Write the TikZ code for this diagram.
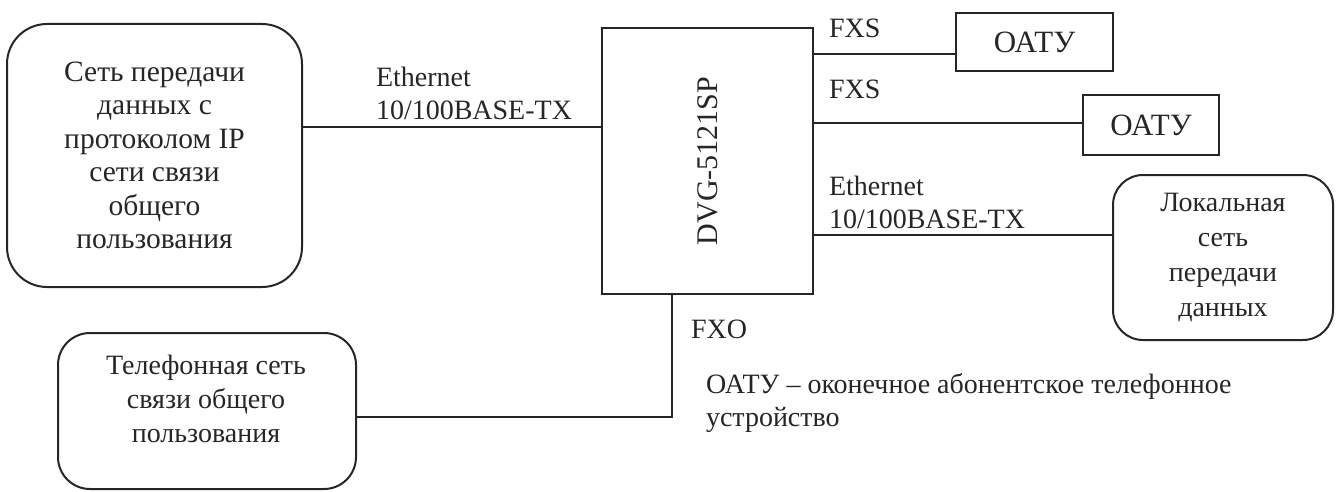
\documentclass[tikz,border=0pt]{standalone}
\usepackage{fontspec}
\usepackage{graphicx}
\setmainfont{Liberation Serif}
\definecolor{ink}{HTML}{262626}
\begin{document}
\begin{tikzpicture}[x=1pt,y=-1pt,
  line width=2pt, draw=ink,
  every node/.style={font=\fontsize{28}{33}\selectfont, text=ink, inner sep=0pt},
  box/.style={draw=ink, line width=2pt},
  rbox/.style={box, rounded corners=30pt},
  conn/.style={draw=ink, line width=2pt},
  lbl/.style={align=left, anchor=base west}]
\useasboundingbox (0,0) rectangle (1336,492);
% boxes
\node[rbox, rounded corners=40pt, minimum width=295pt, minimum height=263pt, align=center, font=\fontsize{29.5}{33.5}\selectfont] (netip) at (154.5,155.5)
  {Сеть передачи\\данных с\\протоколом IP\\сети связи\\общего\\пользования};
\node[box, minimum width=211pt, minimum height=265pt, font=\fontsize{30}{34}\selectfont] (dvg) at (707.5,161) {\rotatebox{90}{DVG-5121SP}};
\node[box, minimum width=157pt, minimum height=58pt, font=\fontsize{31}{34}\selectfont] (oatu1) at (1034.5,42) {ОАТУ};
\node[box, minimum width=136pt, minimum height=60pt, font=\fontsize{31}{34}\selectfont] (oatu2) at (1151,125) {ОАТУ};
\node[rbox, rounded corners=30pt, minimum width=220pt, minimum height=165pt, align=center, font=\fontsize{28}{35}\selectfont] (lan) at (1223,257.5)
  {Локальная\\сеть\\передачи\\данных};
\node[rbox, rounded corners=32pt, minimum width=298pt, minimum height=156pt] (tel) at (207,411) {};
\node[align=center, font=\fontsize{28}{34}\selectfont] (teltext) at (206,399) {Телефонная сеть\\связи общего\\пользования};
% connectors
\draw[conn] ([yshift=28.5pt]netip.east) -- ([yshift=28.5pt]netip.east -| dvg.west);
\draw[conn] ([yshift=-12pt]oatu1.west) -- ([yshift=-12pt]oatu1.west -| dvg.east);
\draw[conn] ([yshift=2pt]oatu2.west) -- ([yshift=2pt]oatu2.west -| dvg.east);
\draw[conn] ([yshift=22.5pt]lan.west) -- ([yshift=22.5pt]lan.west -| dvg.east);
\draw[conn] ([yshift=-6pt]tel.east) -| ([xshift=-36pt]dvg.south);
% labels (base anchor = last line)
\node[lbl] (eth1) at (375,120) {Ethernet\\10/100BASE-TX};
\node[lbl] (fxs1) at (828,38) {FXS};
\node[lbl] (fxs2) at (828,99) {FXS};
\node[lbl] (eth2) at (828,228) {Ethernet\\10/100BASE-TX};
\node[lbl] (fxo) at (690,338) {FXO};
\node[lbl] (legend) at (705,426) {ОАТУ – оконечное абонентское телефонное\\устройство};
\end{tikzpicture}
\end{document}
